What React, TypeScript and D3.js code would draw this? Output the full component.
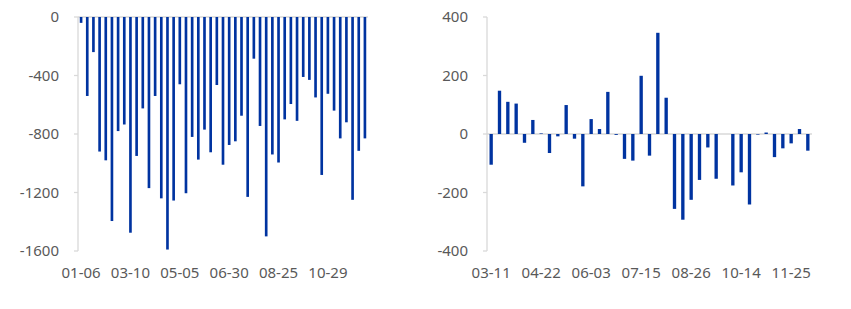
import React from "react";
import * as d3 from "d3";

const leftDates = [
  "01-06","01-13","01-20","01-27","02-03","02-17","02-24","03-03","03-10",
  "03-17","03-24","03-31","04-07","04-14","04-21","04-28","05-05",
  "05-12","05-19","05-26","06-02","06-09","06-16","06-23","06-30",
  "07-07","07-14","07-21","07-28","08-04","08-11","08-18","08-25",
  "09-01","09-08","09-15","09-22","09-29","10-15","10-22","10-29",
  "11-05","11-12","11-19","11-26","12-03","12-10",
];
const leftValues = [
  -40,-540,-240,-920,-980,-1395,-780,-735,-1475,-950,-625,-1170,-540,-1240,-1590,-1255,
  -460,-1205,-820,-975,-770,-925,-465,-1010,-875,-850,-675,-1230,-285,-745,-1500,
  -940,-995,-700,-595,-710,-410,-430,-550,-1080,-525,-640,-830,-720,-1250,-915,-830,
];
const leftTickLabels = ["01-06","03-10","05-05","06-30","08-25","10-29"];
const leftYTicks = [0,-400,-800,-1200,-1600];

const rightDates = [
  "03-11","03-18","03-25","04-01","04-08","04-15","04-22","04-29","05-06","05-13",
  "05-20","05-27","06-03","06-10","06-17","06-24","07-01","07-08","07-15","07-22",
  "07-29","08-05","08-12","08-19","08-26","09-02","09-09","09-16","09-23","09-30",
  "10-14","10-21","10-28","11-04","11-11","11-18","11-25","12-02","12-09",
];
const rightValues = [
  -105,148,110,104,-30,48,2,-65,-8,99,
  -16,-179,51,17,144,-3,-85,-91,199,-74,
  346,124,-256,-293,-225,-157,-46,-153,0,-176,
  -131,-241,-2,5,-79,-49,-32,17,-57,
];
const rightTickLabels = ["03-11","04-22","06-03","07-15","08-26","10-14","11-25"];
const rightYTicks = [400,200,0,-200,-400];

const BAR = "#0033A0";
const AXIS = "#D9D9D9";
const TEXT = "#595959";
const FONT = "'Noto Sans', 'DejaVu Sans', sans-serif";

type PanelProps = {
  dates: string[];
  values: number[];
  tickLabels: string[];
  yTicks: number[];
  domain: [number, number];
  x0: number;
  x1: number;
  barRatio: number;
};

function Panel({ dates, values, tickLabels, yTicks, domain, x0, x1, barRatio }: PanelProps) {
  const top = 17;
  const bottom = 251;
  const x = d3.scaleBand<string>().domain(dates).range([x0, x1]).padding(0);
  const y = d3.scaleLinear().domain(domain).range([bottom, top]);
  const bw = x.bandwidth() * barRatio;
  const zero = y(0);
  return (
    <g>
      <line x1={x0} x2={x1} y1={zero} y2={zero} stroke={AXIS} strokeWidth={1.3} />
      {dates.map((d, i) => {
        const v = values[i];
        const cx = (x(d) as number) + x.bandwidth() / 2;
        const y0 = Math.min(y(v), zero);
        const h = Math.abs(y(v) - zero);
        return <rect key={d} x={cx - bw / 2} y={y0} width={bw} height={h} fill={BAR} />;
      })}
      <line x1={x0} x2={x0} y1={top} y2={bottom} stroke={AXIS} strokeWidth={1.3} />
      {yTicks.map((t) => (
        <g key={t}>
          <line x1={x0 - 4} x2={x0} y1={y(t)} y2={y(t)} stroke={AXIS} strokeWidth={1.3} />
          <text x={x0 - 19} y={y(t)} dy="0.35em" textAnchor="end" fontSize={15} fill={TEXT} fontFamily={FONT}>
            {t}
          </text>
        </g>
      ))}
      {tickLabels.map((l) => (
        <text key={l} x={(x(l) as number) + x.bandwidth() / 2} y={273} dy="0.35em" textAnchor="middle" fontSize={15} fill={TEXT} fontFamily={FONT}>
          {l}
        </text>
      ))}
    </g>
  );
}

export default function App() {
  return (
    <svg width={851} height={309} style={{ position: "absolute", left: 0, top: 0, background: "#fff" }}>
      <rect width={851} height={309} fill="#fff" />
      <Panel dates={leftDates} values={leftValues} tickLabels={leftTickLabels} yTicks={leftYTicks} domain={[-1600, 0]} x0={78} x1={368} barRatio={0.43} />
      <Panel dates={rightDates} values={rightValues} tickLabels={rightTickLabels} yTicks={rightYTicks} domain={[-400, 400]} x0={487} x1={812} barRatio={0.4} />
    </svg>
  );
}
